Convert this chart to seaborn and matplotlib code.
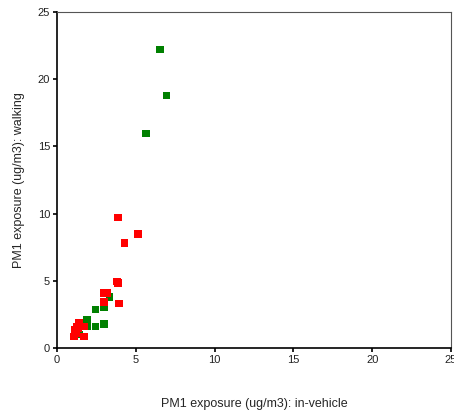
import matplotlib
matplotlib.use("Agg")
import matplotlib.pyplot as plt
import seaborn as sns
import pandas as pd

# Data
green_x = [6.55, 6.95, 5.65, 3.32, 2.99, 2.45, 1.92, 1.92, 2.45, 2.99, 1.41, 1.30]
green_y = [22.2, 18.8, 15.95, 3.8, 3.05, 2.85, 2.1, 1.65, 1.6, 1.8, 1.0, 1.2]
red_x = [3.88, 5.15, 4.27, 3.80, 3.88, 3.95, 2.95, 3.20, 2.99, 1.41, 1.73, 1.14, 1.08, 1.71, 1.25, 1.35, 1.20, 1.50, 1.10]
red_y = [9.7, 8.5, 7.8, 4.95, 4.85, 3.3, 4.1, 4.1, 3.4, 1.9, 1.6, 1.35, 0.85, 0.85, 1.6, 1.45, 1.1, 1.6, 1.2]
group_names = ["green", "red"]
palette = {"green": "#008000", "red": "#FF0000"}

df = pd.DataFrame({
    "x": green_x + red_x,
    "y": green_y + red_y,
    "g": [group_names[0]] * len(green_x) + [group_names[1]] * len(red_x),
})

sns.set_style("white")
plt.rcParams['font.family'] = ['Liberation Sans', 'DejaVu Sans']

fig = plt.figure(figsize=(4.54, 4.16), dpi=100)
ax = fig.add_axes([0.1256, 0.1635, 0.8678, 0.8075])
sns.scatterplot(data=df, x="x", y="y", hue="g", palette=palette, marker="s",
                s=30, linewidth=0, legend=False, ax=ax)

ax.set_xlim(0, 25)
ax.set_ylim(0, 25)
ax.set_xticks([0, 5, 10, 15, 20, 25])
ax.set_yticks([0, 5, 10, 15, 20, 25])
ax.tick_params(axis="both", direction="out", length=3, width=1.2, labelsize=8,
               color="black", labelcolor="#222222", pad=2,
               bottom=True, left=True)
for side in ["left", "bottom"]:
    ax.spines[side].set_color("black")
    ax.spines[side].set_linewidth(1.2)
for side in ["top", "right"]:
    ax.spines[side].set_color("#555555")
    ax.spines[side].set_linewidth(0.8)

ax.set_xlabel("PM1 exposure (ug/m3): in-vehicle", fontsize=9, labelpad=24)
ax.set_ylabel("PM1 exposure (ug/m3): walking", fontsize=9, labelpad=9)

fig.savefig("out.png", dpi=100)
